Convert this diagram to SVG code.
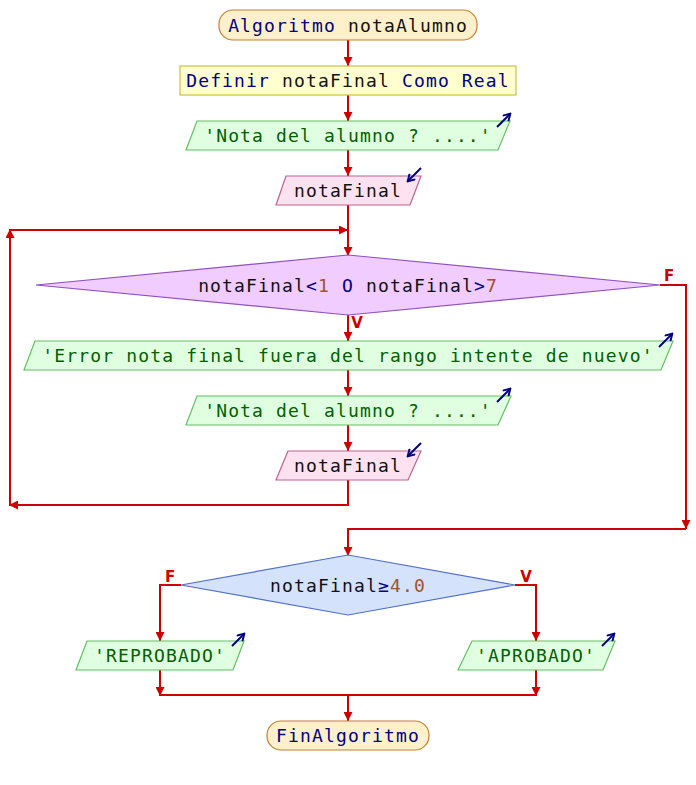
<svg xmlns="http://www.w3.org/2000/svg" width="696" height="785" viewBox="0 0 696 785">
<defs>
<marker id="ah" viewBox="0 0 10 10" refX="10" refY="5" markerWidth="4.5" markerHeight="4.5" orient="auto" markerUnits="strokeWidth">
<path d="M0,0 L10,5 L0,10 z" fill="#cc0000"/>
</marker>
<marker id="ih" viewBox="0 0 10 10" refX="8" refY="5" markerWidth="4.5" markerHeight="4.5" orient="auto" markerUnits="strokeWidth">
<path d="M1,0.5 L8.5,5 L1,9.5" fill="none" stroke="#000080" stroke-width="2.2"/>
</marker>
<style>
.t{font-family:"DejaVu Sans Mono","Liberation Mono",monospace;font-size:18px;letter-spacing:1.15px;text-anchor:middle}
.kw{fill:#000080}.id{fill:#111111}.st{fill:#006000}.nm{fill:#a0522d}
.term{fill:#fff0cc;stroke:#c08030;stroke-width:1.2}
.def{fill:#ffffd0;stroke:#c8c040;stroke-width:1.2}
.out{fill:#e0ffe0;stroke:#60c060;stroke-width:1.2}
.in{fill:#ffe2f0;stroke:#c06090;stroke-width:1.2}
.d1{fill:#f0ccff;stroke:#9050c0;stroke-width:1.2}
.d2{fill:#d4e2fc;stroke:#5070c8;stroke-width:1.2}
.ic{stroke:#000080;stroke-width:2;fill:none;marker-end:url(#ih)}
.c{stroke:#cc0000;stroke-width:2;fill:none}
.ca{stroke:#cc0000;stroke-width:2;fill:none;marker-end:url(#ah)}
.lb{font-family:"DejaVu Sans","Liberation Sans",sans-serif;font-size:15px;font-weight:bold;fill:#cc0000;text-anchor:middle}
</style>
</defs>
<rect width="696" height="785" fill="#ffffff"/>
<g id="connectors">
<line class="ca" x1="348" y1="40" x2="348" y2="66"/>
<line class="ca" x1="348" y1="95" x2="348" y2="121"/>
<line class="ca" x1="348" y1="150" x2="348" y2="176"/>
<line class="ca" x1="348" y1="205" x2="348" y2="256"/>
<line class="ca" x1="348" y1="315" x2="348" y2="341"/>
<line class="ca" x1="348" y1="370" x2="348" y2="396"/>
<line class="ca" x1="348" y1="425" x2="348" y2="451"/>
<polyline class="ca" points="348,480 348,505 9,505"/>
<line class="ca" x1="10" y1="505" x2="10" y2="229"/>
<line class="ca" x1="10" y1="230" x2="348" y2="230"/>
<polyline class="ca" points="660,285 686,285 686,529"/>
<polyline class="ca" points="686,529 348,529 348,556"/>
<polyline class="ca" points="181,585 160,585 160,641"/>
<polyline class="ca" points="515,585 536,585 536,641"/>
<line class="ca" x1="160" y1="670" x2="160" y2="696"/>
<line class="ca" x1="536" y1="670" x2="536" y2="696"/>
<line class="c" x1="160" y1="695" x2="536" y2="695"/>
<line class="ca" x1="348" y1="695" x2="348" y2="721"/>
<text class="lb" x="669" y="281">F</text>
<text class="lb" x="357" y="328">V</text>
<text class="lb" x="170" y="582">F</text>
<text class="lb" x="526" y="582">V</text>
</g>
<g id="start">
<rect class="term" x="219" y="10" width="258" height="30" rx="14"/>
<text class="t" x="348" y="32"><tspan class="kw">Algoritmo</tspan><tspan class="id"> notaAlumno</tspan></text>
</g>
<g id="definir">
<rect class="def" x="180" y="66" width="336" height="29"/>
<text class="t" x="348" y="87"><tspan class="kw">Definir</tspan><tspan class="id"> notaFinal </tspan><tspan class="kw">Como Real</tspan></text>
</g>
<g id="escribir1">
<polygon class="out" points="197,121 510,121 498,150 186,150"/>
<text class="t st" x="348" y="142">'Nota del alumno ? ....'</text>
<line class="ic" x1="497" y1="127" x2="510" y2="114"/>
</g>
<g id="leer1">
<polygon class="in" points="286,176 421,176 410,205 276,205"/>
<text class="t id" x="348" y="197">notaFinal</text>
<line class="ic" x1="421" y1="168" x2="408" y2="181"/>
</g>
<g id="mientras">
<polygon class="d1" points="36,285 348,255 660,285 348,315"/>
<text class="t" x="348" y="292"><tspan class="id">notaFinal</tspan><tspan class="kw">&lt;</tspan><tspan class="nm">1</tspan><tspan class="kw"> O </tspan><tspan class="id">notaFinal</tspan><tspan class="kw">&gt;</tspan><tspan class="nm">7</tspan></text>
</g>
<g id="escribirError">
<polygon class="out" points="35,341 673,341 661,370 24,370"/>
<text class="t st" x="348" y="362">'Error nota final fuera del rango intente de nuevo'</text>
<line class="ic" x1="659" y1="347" x2="672" y2="334"/>
</g>
<g id="escribir2">
<polygon class="out" points="197,396 511,396 498,425 186,425"/>
<text class="t st" x="348" y="417">'Nota del alumno ? ....'</text>
<line class="ic" x1="497" y1="402" x2="510" y2="389"/>
</g>
<g id="leer2">
<polygon class="in" points="288,451 421,451 408,480 276,480"/>
<text class="t id" x="348" y="472">notaFinal</text>
<line class="ic" x1="421" y1="443" x2="408" y2="456"/>
</g>
<g id="si">
<polygon class="d2" points="181,585 348,555 515,585 348,615"/>
<text class="t" x="348" y="592"><tspan class="id">notaFinal</tspan><tspan class="kw">≥</tspan><tspan class="nm">4.0</tspan></text>
</g>
<g id="reprobado">
<polygon class="out" points="87,641 244,641 233,670 76,670"/>
<text class="t st" x="160" y="662">'REPROBADO'</text>
<line class="ic" x1="232" y1="646" x2="244" y2="634"/>
</g>
<g id="aprobado">
<polygon class="out" points="472,641 615,641 603,670 458,670"/>
<text class="t st" x="536" y="662">'APROBADO'</text>
<line class="ic" x1="602" y1="646" x2="614" y2="634"/>
</g>
<g id="fin">
<rect class="term" x="267" y="721" width="162" height="29" rx="14"/>
<text class="t kw" x="348" y="742">FinAlgoritmo</text>
</g>
</svg>
